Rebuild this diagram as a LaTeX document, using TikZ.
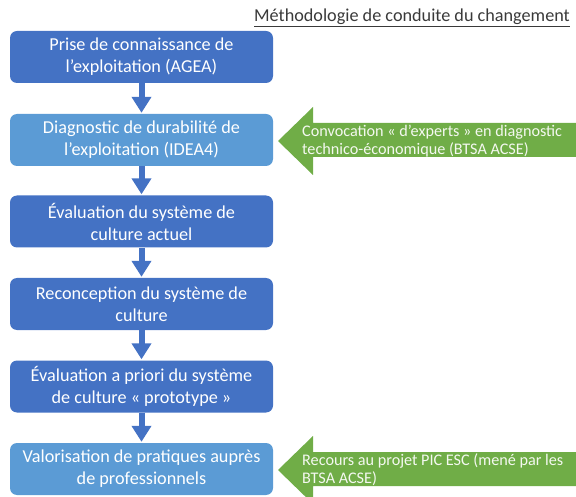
\documentclass[tikz,border=0pt]{standalone}
\usepackage{fontspec}
\setmainfont{Carlito}
\usetikzlibrary{arrows.meta}
\definecolor{dblue}{HTML}{4472C4}
\definecolor{lblue}{HTML}{5B9BD5}
\definecolor{ggreen}{HTML}{70AD47}
\definecolor{titlegray}{HTML}{3A3A3A}
\tikzset{
  box/.style={rectangle, rounded corners=7pt, minimum width=263pt, minimum height=52pt,
    text=white, align=center, font=\fontsize{18.2}{22}\selectfont, inner sep=0pt},
  darkbox/.style={box, fill=dblue},
  lightbox/.style={box, fill=lblue},
  flow/.style={draw=dblue, line width=6pt, -{Triangle[width=19pt,length=16pt]}, shorten >=1pt},
  greenarrow/.style={fill=ggreen},
  greentext/.style={text=white!92!ggreen, align=left, anchor=west, inner sep=0pt,
    font=\fontsize{16.2}{18}\selectfont},
}
\begin{document}
\begin{tikzpicture}[x=1pt,y=-1pt]
\useasboundingbox (0,0) rectangle (576,497);
\clip (0,0) rectangle (576,497);
\node[text=titlegray, font=\fontsize{18.2}{20}\selectfont, inner sep=0pt] (title) at (412,18)
  {\underline{Méthodologie de conduite du changement}};
\node[darkbox] (b1) at (141.5,57) {Prise de connaissance de\\l’exploitation (AGEA)};
\node[lightbox] (b2) at (141.5,140) {Diagnostic de durabilité de\\l’exploitation (IDEA4)};
\node[darkbox] (b3) at (141.5,221.5) {Évaluation du système de\\culture actuel};
\node[darkbox] (b4) at (141.5,304) {Reconception du système de\\culture};
\node[darkbox] (b5) at (141.5,386.5) {Évaluation a priori du système\\de culture « prototype »};
\node[lightbox] (b6) at (141.5,469) {Valorisation de pratiques auprès\\de professionnels};
\draw[flow] (b1.south) -- (b2.north);
\draw[flow] (b2.south) -- (b3.north);
\draw[flow] (b3.south) -- (b4.north);
\draw[flow] (b4.south) -- (b5.north);
\draw[flow] (b5.south) -- (b6.north);
% green arrows
\fill[greenarrow] (278,141) -- (313,107) -- (313,123) -- (580,123) -- (580,157) -- (313,157) -- (313,175) -- cycle;
\node[greentext] (g1) at (302,141) {Convocation « d’experts » en diagnostic\\technico-économique (BTSA ACSE)};
\fill[greenarrow] (278,470) -- (313,436) -- (313,452) -- (580,452) -- (580,486) -- (313,486) -- (313,504) -- cycle;
\node[greentext] (g2) at (302,470) {Recours au projet PIC ESC (mené par les\\BTSA ACSE)};
\end{tikzpicture}
\end{document}
